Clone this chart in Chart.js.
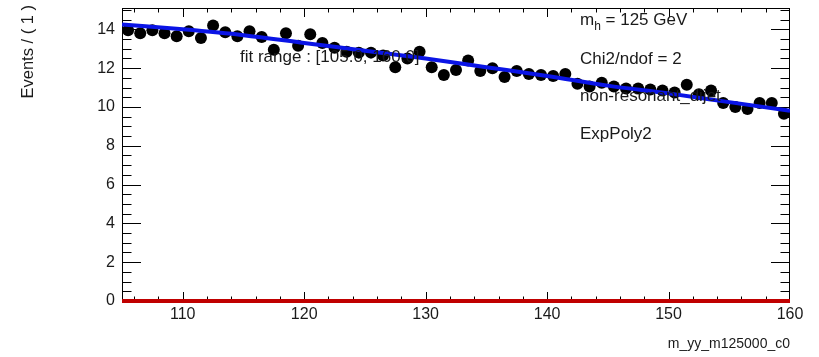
<!DOCTYPE html>
<html lang="en">
<head>
    <meta charset="UTF-8">
    <title>m_yy_m125000_c0 fit</title>
    <script src="https://cdn.jsdelivr.net/npm/chart.js"></script>
    <style>
        html, body { margin: 0; padding: 0; background: #fff; }
        canvas { display: block; }
    </style>
</head>
<body>
    <canvas id="fitChart" width="819" height="357"></canvas>

    <script>
        // Bin centres (1 GeV bins) and events per bin
        const binCenters = [105.5, 106.5, 107.5, 108.5, 109.5, 110.5, 111.5, 112.5, 113.5, 114.5,
                            115.5, 116.5, 117.5, 118.5, 119.5, 120.5, 121.5, 122.5, 123.5, 124.5,
                            125.5, 126.5, 127.5, 128.5, 129.5, 130.5, 131.5, 132.5, 133.5, 134.5,
                            135.5, 136.5, 137.5, 138.5, 139.5, 140.5, 141.5, 142.5, 143.5, 144.5,
                            145.5, 146.5, 147.5, 148.5, 149.5, 150.5, 151.5, 152.5, 153.5, 154.5,
                            155.5, 156.5, 157.5, 158.5, 159.5];
        const eventCounts = [13.95, 13.8, 13.95, 13.8, 13.65, 13.9, 13.55, 14.2, 13.85, 13.65,
                             13.9, 13.6, 12.95, 13.8, 13.15, 13.75, 13.3, 13.05, 12.85, 12.8,
                             12.8, 12.65, 12.05, 12.5, 12.85, 12.05, 11.65, 11.9, 12.4, 11.85,
                             12.0, 11.55, 11.85, 11.7, 11.65, 11.6, 11.7, 11.2, 11.05, 11.25,
                             11.05, 10.95, 10.95, 10.9, 10.85, 10.75, 11.15, 10.65, 10.85, 10.2,
                             10.0, 9.9, 10.2, 10.2, 9.65];

        // ExpPoly2 fit curve
        const fitMass = [105, 110, 115, 120, 125, 130, 135, 140, 145, 150, 155, 160];
        const fitValues = [14.25, 14.0, 13.7, 13.3, 12.9, 12.5, 12.05, 11.6, 11.1, 10.7, 10.25, 9.8];

        // flat red curve at zero
        const zeroMass = [105, 160];
        const zeroValues = [0, 0];

        const xTickValues = [110, 120, 130, 140, 150, 160];
        const yTickValues = [0, 2, 4, 6, 8, 10, 12, 14];

        const textLines = ['Chi2/ndof = 2', 'non-resonant_dijet', 'ExpPoly2'];
        const fitRangeText = 'fit range : [105.0, 160.0]';
        const xTitle = 'm_yy_m125000_c0';
        const yTitle = 'Events / ( 1 )';

        const FONT = '"Liberation Sans", Arial, Helvetica, sans-serif';
        Chart.defaults.font.family = FONT;

        function toPoints(xs, ys) {
            return xs.map((v, i) => ({ x: v, y: ys[i] }));
        }

        // ROOT style frame with ticks on all four sides
        const rootFrame = {
            id: 'rootFrame',
            beforeDatasetsDraw(chart) {
                const { ctx, chartArea: a, scales: { x, y } } = chart;
                ctx.save();
                ctx.strokeStyle = '#000';
                ctx.lineWidth = 1;
                ctx.strokeRect(Math.round(a.left) + 0.5, Math.round(a.top) + 0.5,
                               Math.round(a.width) - 1, Math.round(a.height));
                ctx.beginPath();
                for (let v = 106; v < 160; v += 2) {
                    const px = Math.round(x.getPixelForValue(v)) + 0.5;
                    const len = v % 10 === 0 ? 9 : 4.5;
                    ctx.moveTo(px, a.bottom); ctx.lineTo(px, a.bottom - len);
                    ctx.moveTo(px, a.top); ctx.lineTo(px, a.top + len);
                }
                for (let v = 0.5; v < y.max; v += 0.5) {
                    const py = Math.round(y.getPixelForValue(v)) + 0.5;
                    const len = v % 2 === 0 ? 19 : 9.5;
                    ctx.moveTo(a.left, py); ctx.lineTo(a.left + len, py);
                    ctx.moveTo(a.right, py); ctx.lineTo(a.right - len, py);
                }
                ctx.stroke();
                ctx.restore();
            },
            afterDraw(chart) {
                const { ctx, chartArea: a } = chart;
                ctx.save();
                ctx.fillStyle = '#1a1a1a';
                ctx.textBaseline = 'alphabetic';

                ctx.font = '17px ' + FONT;
                ctx.textAlign = 'left';
                ctx.fillText(fitRangeText, 240, 62);

                // m_h = 125 GeV with subscript
                ctx.fillText('m', 580, 25);
                let w = ctx.measureText('m').width;
                ctx.font = '12px ' + FONT;
                ctx.fillText('h', 580 + w, 30);
                w += ctx.measureText('h').width;
                ctx.font = '17px ' + FONT;
                ctx.fillText(' = 125 GeV', 580 + w, 25);

                const baselines = [64, 101, 139];
                textLines.forEach((t, i) => ctx.fillText(t, 580, baselines[i]));

                ctx.font = '14px ' + FONT;
                ctx.textAlign = 'right';
                ctx.fillText(xTitle, a.right, 348);

                ctx.translate(33, 5);
                ctx.rotate(-Math.PI / 2);
                ctx.font = '16.5px ' + FONT;
                ctx.textAlign = 'right';
                ctx.fillText(yTitle, 0, 0);
                ctx.restore();
            }
        };

        const ctx = document.getElementById('fitChart').getContext('2d');
        new Chart(ctx, {
            type: 'scatter',
            data: {
                datasets: [
                    {
                        type: 'line',
                        data: toPoints(zeroMass, zeroValues),
                        borderColor: '#c00000',
                        borderWidth: 4,
                        pointRadius: 0,
                        clip: false,
                        order: 0
                    },
                    {
                        type: 'line',
                        data: toPoints(fitMass, fitValues),
                        borderColor: '#0a14e6',
                        borderWidth: 4,
                        pointRadius: 0,
                        cubicInterpolationMode: 'monotone',
                        order: 1
                    },
                    {
                        data: toPoints(binCenters, eventCounts),
                        backgroundColor: '#000',
                        borderWidth: 0,
                        pointRadius: 6,
                        pointStyle: 'circle',
                        order: 2
                    }
                ]
            },
            options: {
                responsive: false,
                animation: false,
                devicePixelRatio: 1,
                layout: { padding: { top: 8, right: 29, left: 0, bottom: 0 } },
                plugins: {
                    legend: { display: false },
                    tooltip: { enabled: false }
                },
                scales: {
                    x: {
                        type: 'linear',
                        min: 105,
                        max: 160,
                        grid: { display: false, drawTicks: false },
                        border: { display: false },
                        afterFit(s) {
                            s.height = 56;
                            s.paddingLeft = 0;
                            s.paddingRight = 0;
                        },
                        afterBuildTicks(s) { s.ticks = xTickValues.map(v => ({ value: v })); },
                        ticks: {
                            color: '#1a1a1a',
                            font: { size: 16 },
                            padding: 4,
                            maxRotation: 0
                        }
                    },
                    y: {
                        type: 'linear',
                        min: 0,
                        max: 15.1,
                        grid: { display: false, drawTicks: false },
                        border: { display: false },
                        afterFit(s) {
                            s.width = 122;
                            s.paddingTop = 0;
                            s.paddingBottom = 0;
                        },
                        afterBuildTicks(s) { s.ticks = yTickValues.map(v => ({ value: v })); },
                        ticks: {
                            color: '#1a1a1a',
                            font: { size: 16 },
                            padding: 7
                        }
                    }
                }
            },
            plugins: [rootFrame]
        });
    </script>
</body>
</html>
